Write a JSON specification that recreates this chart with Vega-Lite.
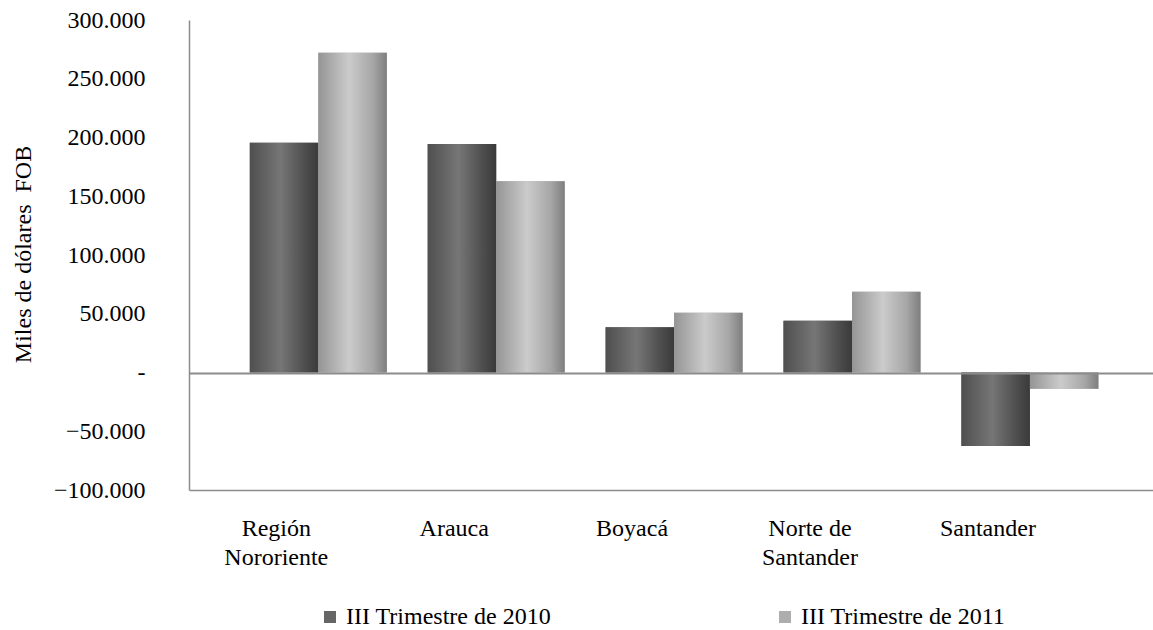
{
  "$schema": "https://vega.github.io/schema/vega-lite/v6.json",
  "width": 964,
  "height": 470,
  "autosize": "none",
  "padding": {"left": 189, "top": 20, "right": 0, "bottom": 140},
  "config": {"view": {"stroke": null}, "font": "'Liberation Serif', 'Times New Roman', serif", "background": "white"},
  "data": {
    "values": [
      {"region": "Región Nororiente", "serie": "III Trimestre de 2010", "value": 195600},
      {"region": "Región Nororiente", "serie": "III Trimestre de 2011", "value": 272200},
      {"region": "Arauca", "serie": "III Trimestre de 2010", "value": 194500},
      {"region": "Arauca", "serie": "III Trimestre de 2011", "value": 162700},
      {"region": "Boyacá", "serie": "III Trimestre de 2010", "value": 38500},
      {"region": "Boyacá", "serie": "III Trimestre de 2011", "value": 50900},
      {"region": "Norte de Santander", "serie": "III Trimestre de 2010", "value": 44100},
      {"region": "Norte de Santander", "serie": "III Trimestre de 2011", "value": 68800},
      {"region": "Santander", "serie": "III Trimestre de 2010", "value": -62600},
      {"region": "Santander", "serie": "III Trimestre de 2011", "value": -13800}
    ]
  },
  "encoding": {
    "x": {
      "field": "region",
      "type": "nominal",
      "sort": null,
      "scale": {"paddingInner": 0, "paddingOuter": 0.2094, "align": 0.5416},
      "axis": {
        "title": null,
        "orient": "bottom",
        "domain": true,
        "domainColor": "#8c8c8c",
        "domainWidth": 1.5,
        "ticks": false,
        "labelAngle": 0,
        "labelOffset": -42,
        "labelPadding": 26,
        "labelFont": "'Liberation Serif', 'Times New Roman', serif",
        "labelFontSize": 24,
        "labelColor": "black",
        "labelBaseline": "top",
        "labelLineHeight": 29,
        "labelLimit": 300,
        "labelExpr": "datum.label == 'Región Nororiente' ? ['Región', 'Nororiente'] : (datum.label == 'Norte de Santander' ? ['Norte de', 'Santander'] : datum.label)"
      }
    },
    "xOffset": {
      "field": "serie",
      "type": "nominal",
      "sort": null,
      "scale": {"paddingInner": 0, "paddingOuter": 0.2985}
    },
    "y": {
      "field": "value",
      "type": "quantitative",
      "scale": {"domain": [-100000, 300000], "nice": false, "zero": false},
      "axis": {
        "title": "Miles de dólares\u00a0\u00a0FOB",
        "titleFont": "'Liberation Serif', 'Times New Roman', serif",
        "titleFontSize": 24,
        "titleFontWeight": "normal",
        "titleColor": "black",
        "titleAngle": 270,
        "titleX": -166,
        "titleY": 234,
        "titleAlign": "center",
        "titleBaseline": "middle",
        "values": [-100000, -50000, 0, 50000, 100000, 150000, 200000, 250000, 300000],
        "domain": true,
        "domainColor": "#8c8c8c",
        "domainWidth": 1.5,
        "ticks": false,
        "labelPadding": 44,
        "labelFont": "'Liberation Serif', 'Times New Roman', serif",
        "labelFontSize": 24,
        "labelColor": "black",
        "labelExpr": "datum.value == 0 ? '-\u2002\u2009' : replace(format(datum.value, ','), regexp(',', 'g'), '.')",
        "grid": true,
        "gridColor": {"condition": {"test": "datum.value === 0", "value": "#8c8c8c"}, "value": null},
        "gridWidth": 2,
        "gridOpacity": 1,
        "zindex": 1
      }
    }
  },
  "layer": [
    {
      "mark": {"type": "bar"},
      "encoding": {
        "color": {
          "field": "serie",
          "type": "nominal",
          "scale": {"range": ["#666666", "#adadad"]},
          "legend": {
            "orient": "none",
            "legendX": 129,
            "legendY": 585,
            "direction": "horizontal",
            "title": null,
            "symbolType": "square",
            "symbolSize": 144,
            "symbolStrokeWidth": 0,
            "labelFontSize": 24,
            "labelFont": "'Liberation Serif', 'Times New Roman', serif",
            "labelColor": "black",
            "labelOffset": 4,
            "labelLimit": 400,
            "columnPadding": 221
          }
        }
      }
    },
    {
      "transform": [{"filter": "datum.serie == 'III Trimestre de 2010'"}],
      "mark": {
        "type": "bar",
        "color": {
          "gradient": "linear",
          "x1": 0, "x2": 1, "y1": 0, "y2": 0,
          "stops": [
            {"offset": 0, "color": "#4f4f4f"},
            {"offset": 0.45, "color": "#767676"},
            {"offset": 0.8, "color": "#4e4e4e"},
            {"offset": 1, "color": "#3a3a3a"}
          ]
        }
      }
    },
    {
      "transform": [{"filter": "datum.serie == 'III Trimestre de 2011'"}],
      "mark": {
        "type": "bar",
        "color": {
          "gradient": "linear",
          "x1": 0, "x2": 1, "y1": 0, "y2": 0,
          "stops": [
            {"offset": 0, "color": "#959595"},
            {"offset": 0.45, "color": "#cbcbcb"},
            {"offset": 0.8, "color": "#a6a6a6"},
            {"offset": 1, "color": "#7e7e7e"}
          ]
        }
      }
    }
  ]
}
